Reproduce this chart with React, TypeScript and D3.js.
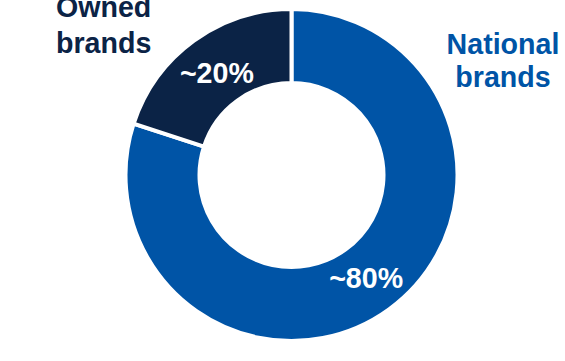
import React from "react";
import * as d3 from "d3";

const categories = ["National brands", "Owned brands"];
const shares = [80, 20];
const valueLabels = ["~80%", "~20%"];
const colors = ["#0054A6", "#0B2346"];

const W = 565;
const H = 361;
const cx = 291.5;
const cy = 175;
const outerR = 166;
const innerR = 92;
const FONT = "Liberation Sans, Arial, Helvetica, sans-serif";
const FS = 28.6;

export default function App() {
  const pie = d3.pie<number>().sort(null).value((d) => d);
  const arcs = pie(shares);
  const arc = d3.arc<d3.PieArcDatum<number>>().innerRadius(innerR).outerRadius(outerR);
  const labelArc = d3
    .arc<d3.PieArcDatum<number>>()
    .innerRadius((innerR + outerR) / 2 - 2)
    .outerRadius((innerR + outerR) / 2 - 2);

  return (
    <svg
      width={W}
      height={H}
      style={{ position: "absolute", left: 0, top: 0, background: "#fff" }}
      fontFamily={FONT}
    >
      <g transform={`translate(${cx},${cy})`}>
        {arcs.map((a, i) => (
          <path key={categories[i]} d={arc(a) || ""} fill={colors[i]} stroke="#fff" strokeWidth={4} />
        ))}
        {arcs.map((a, i) => {
          const [x, y] = labelArc.centroid(a);
          return (
            <text
              key={valueLabels[i]}
              x={x}
              y={y}
              dy="0.36em"
              textAnchor="middle"
              fill="#fff"
              fontSize={FS}
              fontWeight="bold"
            >
              {valueLabels[i]}
            </text>
          );
        })}
      </g>
      <text x={56} fill={colors[1]} fontSize={FS} fontWeight="bold">
        <tspan x={56} y={17}>Owned</tspan>
        <tspan x={56} y={53}>brands</tspan>
      </text>
      <text x={503} fill={colors[0]} fontSize={FS} fontWeight="bold" textAnchor="middle">
        <tspan x={503} y={54}>National</tspan>
        <tspan x={503} y={87}>brands</tspan>
      </text>
    </svg>
  );
}
